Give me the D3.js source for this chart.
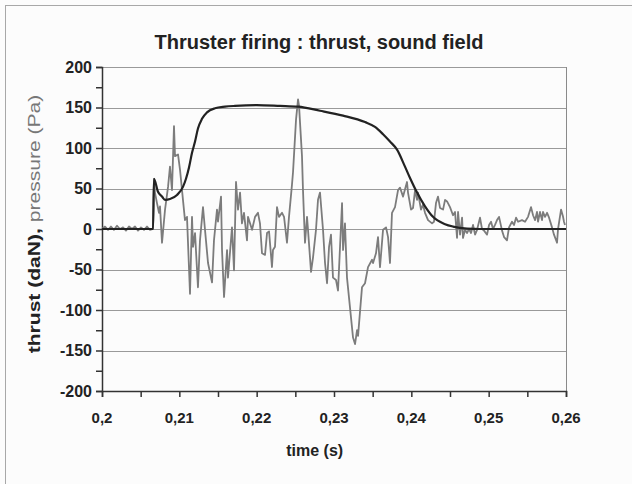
<!DOCTYPE html>
<html>
<head>
<meta charset="utf-8">
<script src="https://cdn.jsdelivr.net/npm/d3@7"></script>
<style>
  body { margin: 0; background: #fcfcfc; }
  svg { display: block; font-family: "Liberation Sans", Arial, sans-serif; }
</style>
</head>
<body>
<div id="chart"></div>
<script>
// thrust (daN), black curve
const thrustTime = [0.2, 0.2066, 0.20672, 0.20724, 0.20776, 0.20815, 0.20879, 0.2097, 0.21047, 0.21086,
  0.21125, 0.21164, 0.21203, 0.21241, 0.21293, 0.21358, 0.21461, 0.21591, 0.2172, 0.22,
  0.22302, 0.22535, 0.22819, 0.23117, 0.23401, 0.2353, 0.23634, 0.23724, 0.23815, 0.23918,
  0.23983, 0.24074, 0.24177, 0.2428, 0.24436, 0.24539, 0.2472, 0.24888, 0.26];
const thrustValue = [0, 0, 62, 46, 40, 36, 37, 42, 52, 62,
  76, 94, 108, 124, 136, 144, 149, 151, 152, 153,
  152, 151, 146, 140, 132, 126, 117, 108, 98, 77,
  63, 45, 28, 15, 6, 3, 0.5, 0, 0];

// pressure (Pa), gray signal
const pressureTime = [0.2, 0.20039, 0.20078, 0.20116, 0.20155, 0.20194, 0.20233, 0.20272, 0.2031, 0.20349,
  0.20388, 0.20427, 0.20466, 0.20504, 0.20543, 0.20582, 0.20621, 0.2066, 0.20672, 0.20685,
  0.20711, 0.20737, 0.2075, 0.20776, 0.20815, 0.20854, 0.20879, 0.20905, 0.20931, 0.20944,
  0.20983, 0.21009, 0.21047, 0.21073, 0.21099, 0.21138, 0.21164, 0.21177, 0.21203, 0.21241,
  0.21267, 0.21306, 0.21332, 0.21371, 0.21423, 0.21448, 0.21487, 0.215, 0.21539, 0.21552,
  0.21578, 0.21617, 0.21629, 0.21681, 0.21707, 0.21733, 0.21759, 0.21785, 0.2181, 0.21836,
  0.21875, 0.21888, 0.2194, 0.21979, 0.22017, 0.22043, 0.22069, 0.22108, 0.22134, 0.2216,
  0.22198, 0.22211, 0.22237, 0.22263, 0.22289, 0.22328, 0.22354, 0.22392, 0.22418, 0.22457,
  0.2247, 0.22509, 0.22535, 0.22548, 0.22586, 0.22599, 0.22625, 0.22651, 0.22664, 0.22703,
  0.22729, 0.22767, 0.22793, 0.22819, 0.22858, 0.22884, 0.2291, 0.22936, 0.22961, 0.22987,
  0.23026, 0.23052, 0.23078, 0.23104, 0.23117, 0.23142, 0.23168, 0.23207, 0.23246, 0.23272,
  0.23298, 0.23311, 0.23362, 0.23401, 0.2344, 0.23492, 0.23505, 0.23543, 0.23569, 0.23595,
  0.23634, 0.23673, 0.23699, 0.23724, 0.2375, 0.23789, 0.23828, 0.23854, 0.23893, 0.23944,
  0.23957, 0.23996, 0.24022, 0.24048, 0.24074, 0.24086, 0.24125, 0.24151, 0.24177, 0.24216,
  0.24268, 0.24293, 0.24319, 0.24345, 0.24371, 0.2441, 0.24436, 0.24462, 0.245, 0.24539,
  0.24565, 0.24591, 0.24604, 0.2463, 0.24656, 0.24668, 0.24694, 0.2472, 0.24746, 0.24772,
  0.24798, 0.24824, 0.2485, 0.24888, 0.24914, 0.2494, 0.24979, 0.25005, 0.25031, 0.25056,
  0.25082, 0.25108, 0.25134, 0.25173, 0.25199, 0.25237, 0.25263, 0.25302, 0.25328, 0.25354,
  0.2538, 0.25431, 0.2547, 0.25509, 0.25548, 0.25574, 0.256, 0.25625, 0.25638, 0.25664,
  0.2569, 0.25703, 0.25729, 0.25755, 0.25781, 0.25819, 0.25845, 0.25884, 0.25897, 0.25936,
  0.25962, 0.25974, 0.25987];
const pressureValue = [0, 3, -1, 3, -1, 4, 0, 2, -2, 3,
  0, 3, -2, 2, -1, 3, -1, 0, 62, 45,
  32, 20, 28, -17, 24, 52, 77, 48, 127, 90,
  92, 73, 36, 11, 15, -80, 15, -22, -5, -72,
  -14, 27, -1, -42, -66, -14, 24, 9, 40, -26,
  -84, -26, -60, 2, -51, 58, 24, 45, 7, 20,
  -14, 15, -1, 15, 20, 7, -30, -32, -5, -3,
  -47, -26, -22, 27, 15, 20, 15, -17, 15, 55,
  70, 135, 160, 152, 90, 48, -17, 15, -1, -53,
  -35, -1, 36, 45, -1, -42, -67, -22, -7, -60,
  -63, -76, -22, 32, -26, 7, -60, -97, -134, -142,
  -125, -132, -72, -67, -47, -38, -42, -30, -10, -47,
  -1, 2, -10, -42, 20, 27, 48, 51, 40, 58,
  45, 24, 26, 48, 36, 45, 24, 30, 20, 11,
  7, 9, 32, 40, 26, 24, 36, 34, 27, 17,
  21, -11, 21, -7, 14, -11, -1, -5, 0, -5,
  5, -7, -1, 14, 0, -2, -7, 5, 9, 0,
  5, 11, 15, -2, -10, -14, 2, 9, 5, 14,
  9, 11, 9, 15, 27, 17, 11, 21, 9, 21,
  11, 21, 15, 20, 14, 2, -7, -17, 0, 24,
  15, 9, 5];

const xTicks = [0.2, 0.21, 0.22, 0.23, 0.24, 0.25, 0.26];
const xTickLabels = ["0,2", "0,21", "0,22", "0,23", "0,24", "0,25", "0,26"];
const yTicks = [-200, -150, -100, -50, 0, 50, 100, 150, 200];

const fullWidth = 632, fullHeight = 484;
const margin = { top: 67, right: 66, bottom: 93, left: 102 };

const svg = d3.select("#chart")
  .append("svg")
  .attr("width", fullWidth)
  .attr("height", fullHeight);

svg.append("rect")
  .attr("width", fullWidth)
  .attr("height", fullHeight)
  .attr("fill", "#fcfcfc");

// outer frame (runs off the right and bottom of the picture)
svg.append("rect")
  .attr("x", 5.5).attr("y", 5.5)
  .attr("width", 700).attr("height", 600)
  .attr("fill", "none")
  .attr("stroke", "#a8a8a8");

const x = d3.scaleLinear()
  .domain([0.2, 0.26])
  .range([margin.left, fullWidth - margin.right]);

const y = d3.scaleLinear()
  .domain([-200, 200])
  .range([fullHeight - margin.bottom, margin.top]);

// === Gridlines ===
svg.append("g")
  .selectAll("line")
  .data(yTicks.filter((d) => d > -200))
  .enter()
  .append("line")
  .attr("x1", x(0.2)).attr("x2", x(0.26))
  .attr("y1", (d) => Math.round(y(d)) + 0.5)
  .attr("y2", (d) => Math.round(y(d)) + 0.5)
  .attr("stroke", "#9a9a9a")
  .attr("stroke-width", 1);

// right border of the plot area
svg.append("line")
  .attr("x1", x(0.26) + 0.5).attr("x2", x(0.26) + 0.5)
  .attr("y1", y(200)).attr("y2", y(-200))
  .attr("stroke", "#8a8a8a");

// === Axes ===
const xAxis = d3.axisBottom(x)
  .tickValues(d3.range(0.2, 0.26001, 0.005))
  .tickSize(6)
  .tickFormat("");

svg.append("g")
  .attr("transform", `translate(0, ${y(-200)})`)
  .call(xAxis)
  .call((g) => g.selectAll("path, line").attr("stroke", "#333").attr("stroke-width", 1.5));

svg.append("g")
  .selectAll("text")
  .data(xTicks)
  .enter()
  .append("text")
  .attr("x", (d) => x(d))
  .attr("y", y(-200) + 32)
  .attr("text-anchor", "middle")
  .style("font-size", "15px")
  .style("font-weight", "bold")
  .style("fill", "#222")
  .text((d, i) => xTickLabels[i]);

const yAxis = d3.axisLeft(y)
  .tickValues(d3.range(-200, 201, 25))
  .tickSize(6)
  .tickFormat("");

svg.append("g")
  .attr("transform", `translate(${x(0.2)}, 0)`)
  .call(yAxis)
  .call((g) => g.selectAll("path, line").attr("stroke", "#333").attr("stroke-width", 1.5));

svg.append("g")
  .selectAll("text")
  .data(yTicks)
  .enter()
  .append("text")
  .attr("x", x(0.2) - 10)
  .attr("y", (d) => y(d))
  .attr("dy", "0.35em")
  .attr("text-anchor", "end")
  .style("font-size", "16px")
  .style("font-weight", "bold")
  .style("fill", "#222")
  .text((d) => d);

// === Series ===
const pressureLine = d3.line()
  .x((d) => x(d[0]))
  .y((d) => y(d[1]));

svg.append("path")
  .datum(d3.zip(pressureTime, pressureValue))
  .attr("d", pressureLine)
  .attr("fill", "none")
  .attr("stroke", "#7c7c7c")
  .attr("stroke-width", 1.8)
  .attr("stroke-linejoin", "round");

const thrustLine = d3.line()
  .x((d) => x(d[0]))
  .y((d) => y(d[1]))
  .curve(d3.curveMonotoneX);

svg.append("path")
  .datum(d3.zip(thrustTime, thrustValue))
  .attr("d", thrustLine)
  .attr("fill", "none")
  .attr("stroke", "#222")
  .attr("stroke-width", 2.2);

// === Title ===
svg.append("text")
  .attr("x", 319)
  .attr("y", 49)
  .attr("text-anchor", "middle")
  .style("font-size", "20px")
  .style("font-weight", "bold")
  .style("fill", "#222")
  .text("Thruster firing : thrust, sound field");

// === Axis titles ===
svg.append("text")
  .attr("x", x(0.2275))
  .attr("y", 456)
  .attr("text-anchor", "middle")
  .style("font-size", "16px")
  .style("font-weight", "bold")
  .style("fill", "#222")
  .text("time (s)");

const yTitle = svg.append("text")
  .attr("transform", `translate(40, 224) rotate(-90) scale(1.24, 1)`)
  .attr("text-anchor", "middle")
  .style("font-size", "17px");

yTitle.append("tspan")
  .style("font-weight", "bold")
  .style("fill", "#222")
  .text("thrust (daN), ");

yTitle.append("tspan")
  .style("fill", "#777")
  .text("pressure (Pa)");
</script>
</body>
</html>
